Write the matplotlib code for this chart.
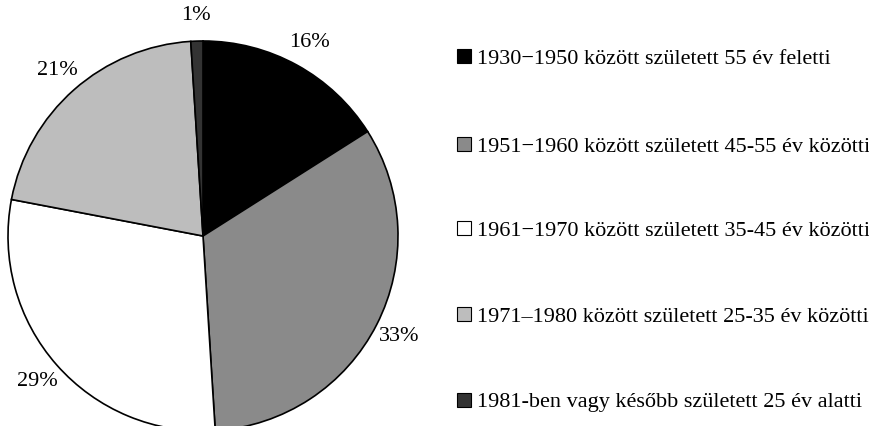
import matplotlib

matplotlib.use("Agg")

import matplotlib.pyplot as plt
from matplotlib.patches import Rectangle

shares = [16, 33, 29, 21, 1]
labels = [
    "1930\u22121950 között született 55 év feletti",
    "1951\u22121960 között született 45-55 év közötti",
    "1961\u22121970 között született 35-45 év közötti",
    "1971\u20131980 között született 25-35 év közötti",
    "1981-ben vagy később született 25 év alatti",
]
colors = ["#000000", "#8a8a8a", "#ffffff", "#bdbdbd", "#333333"]

# legend row centres, pixels from top
legend_rows = [56, 144, 228, 314, 400]

plt.rcParams["font.family"] = ["Liberation Serif", "DejaVu Serif"]

W, H = 870, 426
fig = plt.figure(figsize=(W / 100, H / 100), dpi=100, facecolor="white")
ax = fig.add_axes([8 / W, -5 / H, 390 / W, 390 / H])

wedges, texts, autotexts = ax.pie(
    shares,
    colors=colors,
    startangle=90,
    counterclock=False,
    autopct="%d%%",
    pctdistance=1.13,
    wedgeprops=dict(edgecolor="black", linewidth=1.2),
    textprops=dict(fontsize=16, color="black"),
)
for w in wedges:
    w.set_clip_on(False)
ax.set_xlim(-1, 1)
ax.set_ylim(-1, 1)
ax.set_aspect("equal")
ax.axis("off")

# hand-built legend to keep the wide row spacing of the original
box = 14
for label, color, yc in zip(labels, colors, legend_rows):
    fig.patches.append(
        Rectangle(
            (457 / W, 1 - (yc + box / 2) / H),
            box / W,
            box / H,
            facecolor=color,
            edgecolor="black",
            linewidth=0.8,
            transform=fig.transFigure,
        )
    )
    fig.text(477 / W, 1 - (yc + 7.5) / H, label, fontsize=16, ha="left", va="baseline")

fig.savefig("out.png", dpi=100)
